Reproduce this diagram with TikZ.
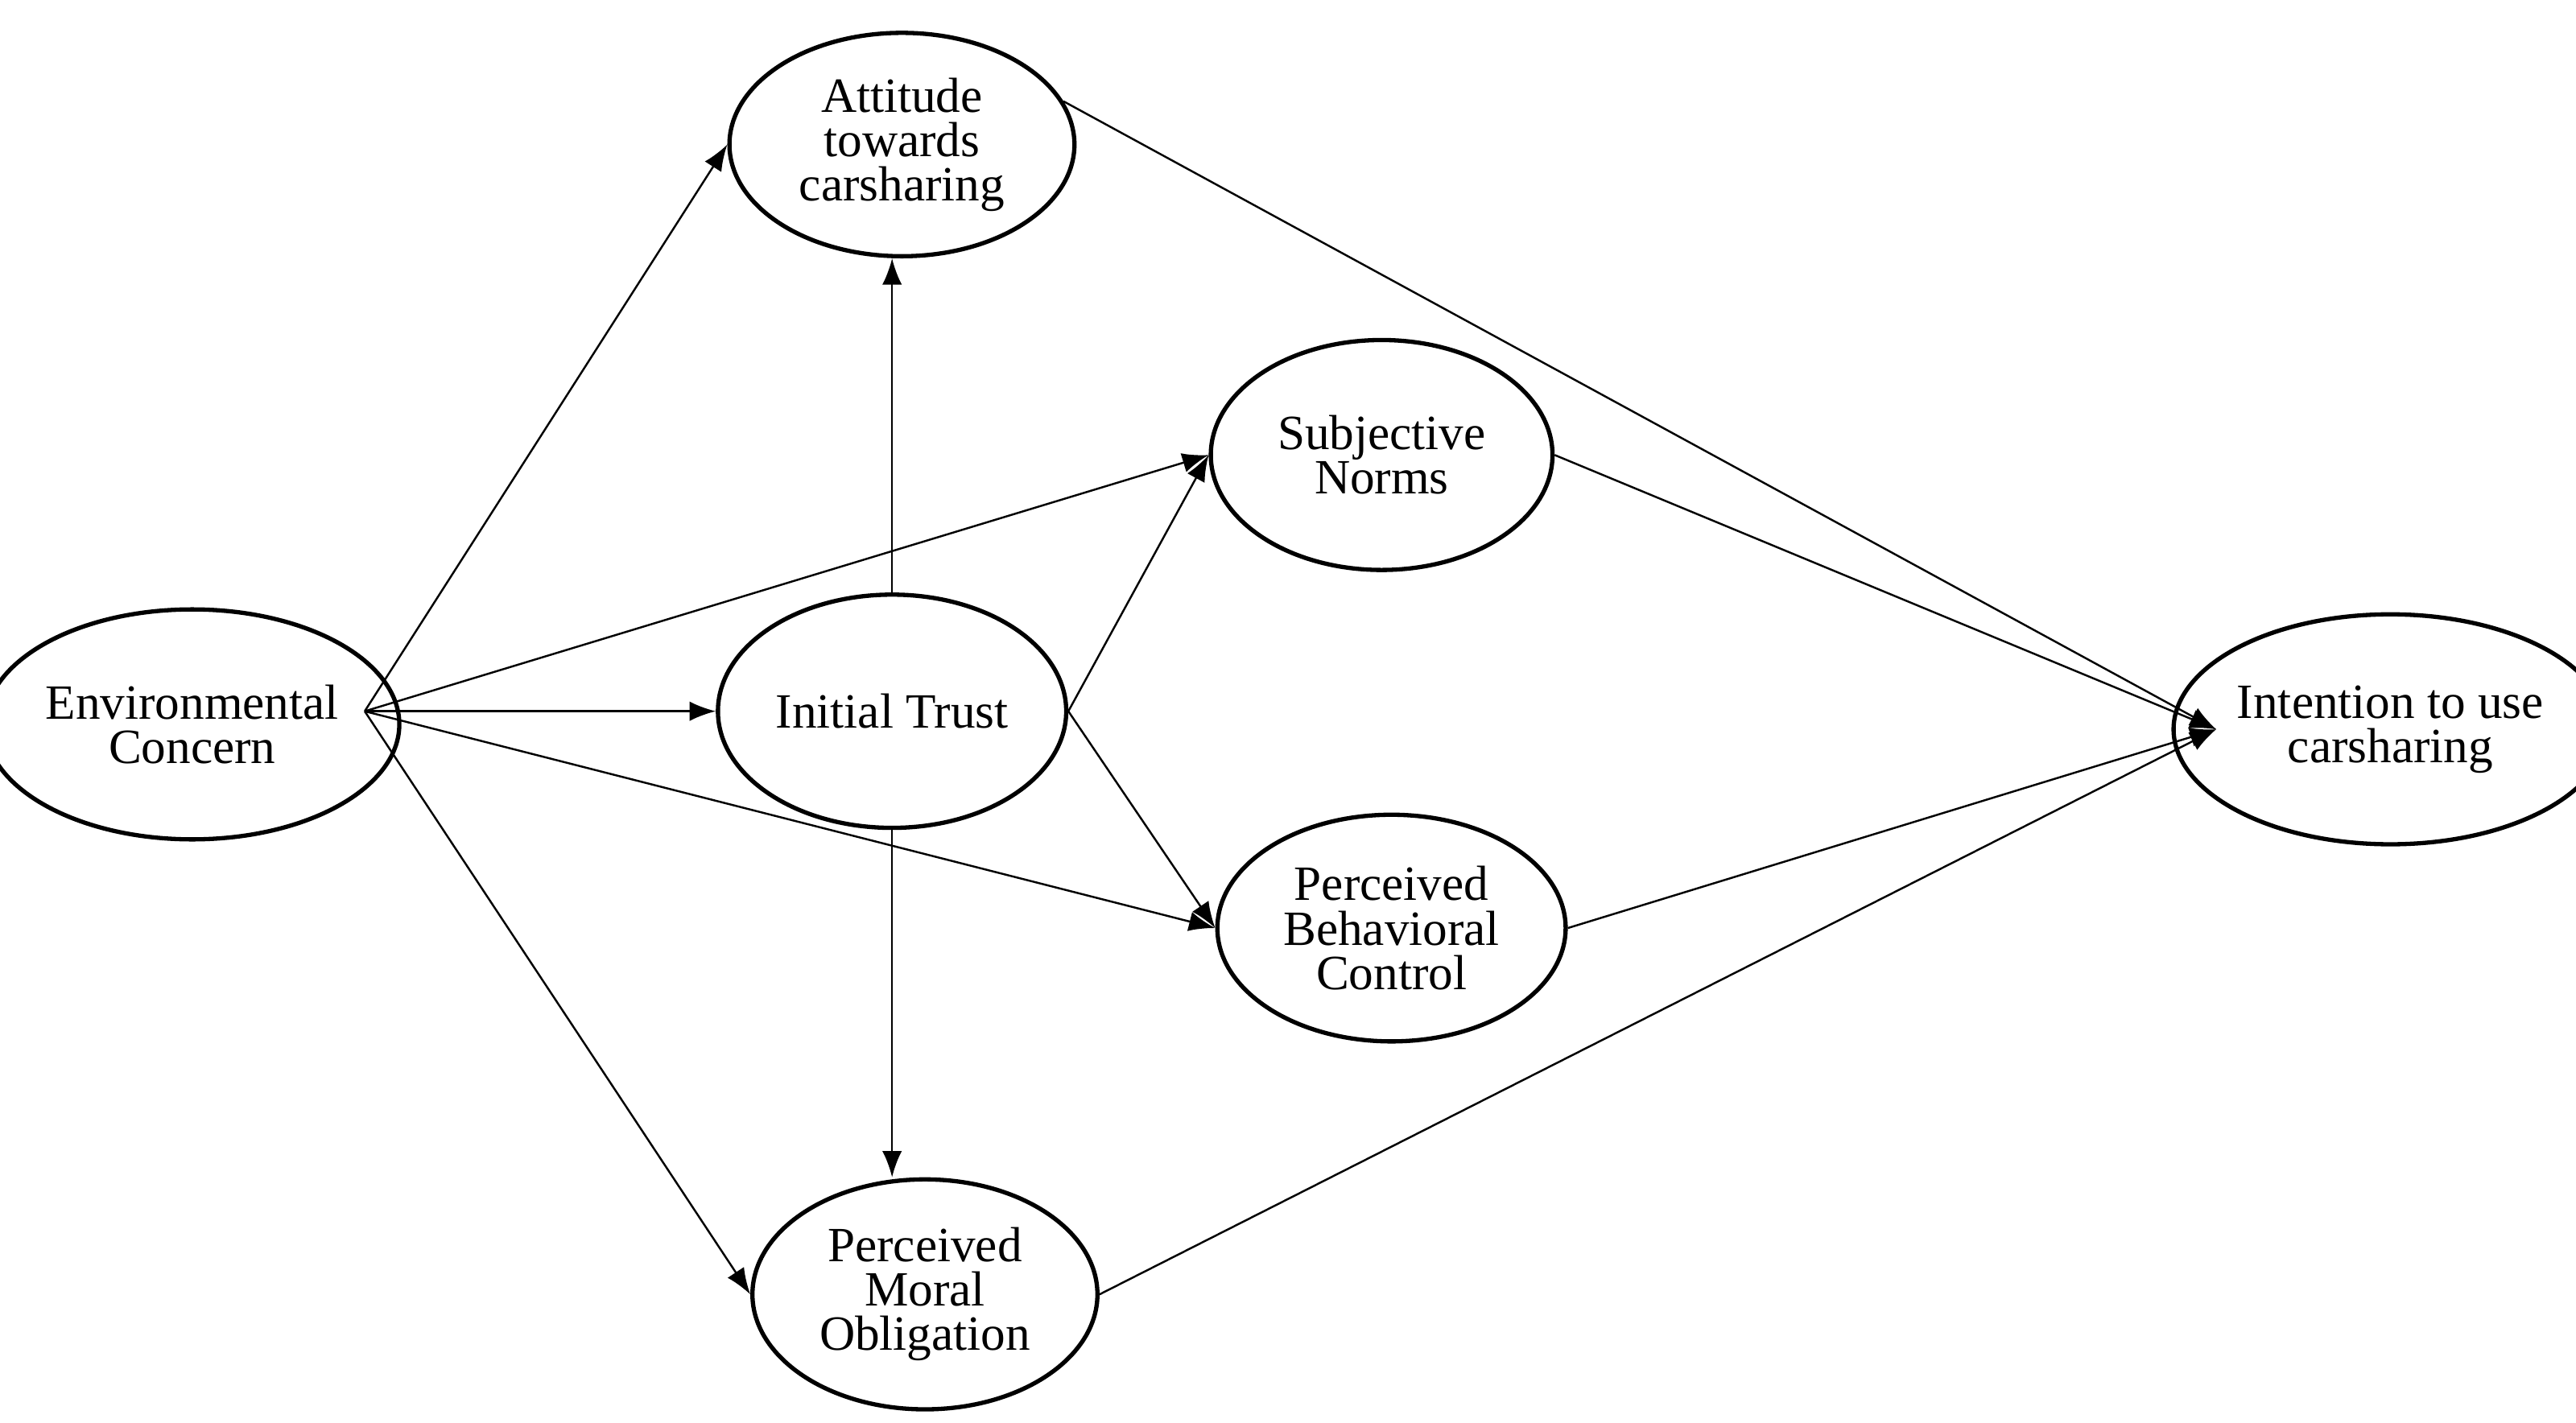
\documentclass[tikz,border=0pt]{standalone}
\usepackage{fontspec}
\setmainfont{Liberation Serif}
\usetikzlibrary{shapes.geometric,arrows.meta}
\begin{document}
\begin{tikzpicture}[x=0.5pt,y=-0.5pt,
  el/.style={ellipse,draw,line width=1.3pt,inner sep=0pt,align=center,
    font=\fontsize{15}{13.5}\selectfont},
  ar/.style={line width=0.6pt,-{Latex[length=8pt,width=6pt]}},
  ln/.style={line width=0.6pt}]
\useasboundingbox (0,0) rectangle (1568,866);
\node[el,minimum width=105pt,minimum height=70pt] (env) at (117,441) {Environmental\\Concern};
\node[el,minimum width=105pt,minimum height=68pt] (att) at (549,88) {Attitude\\towards\\carsharing};
\node[el,minimum width=104pt,minimum height=70pt] (subj) at (841,277) {Subjective\\Norms};
\node[el,minimum width=106pt,minimum height=71pt] (trust) at (543,433) {Initial Trust};
\node[el,minimum width=106pt,minimum height=69pt] (pbc) at (847,565) {Perceived\\Behavioral\\Control};
\node[el,minimum width=105pt,minimum height=70pt] (pmo) at (563,788) {Perceived\\Moral\\Obligation};
\node[el,minimum width=107pt,minimum height=70pt] (int) at (1455,444) {Intention to use\\carsharing};
\coordinate (e) at (222,433);
\coordinate (i) at (1349,444);
\draw[ar] (e) -- (att.west);
\draw[ar] (e) -- (subj.west);
\draw[ar] (e) -- (trust.west);
\draw[ar] (e) -- (pbc.west);
\draw[ar] (e) -- (pmo.west);
\draw[ar] (trust.north) -- (trust.north |- att.south);
\draw[ar] (trust.south) -- (trust.south |- pmo.north);
\draw[ar] (trust.east) -- (subj.west);
\draw[ar] (trust.east) -- (pbc.west);
\draw[ar] (att.15) -- (i);
\draw[ar] (subj.east) -- (i);
\draw[ar] (pbc.east) -- (i);
\draw[ar] (pmo.east) -- (i);
\end{tikzpicture}
\end{document}
